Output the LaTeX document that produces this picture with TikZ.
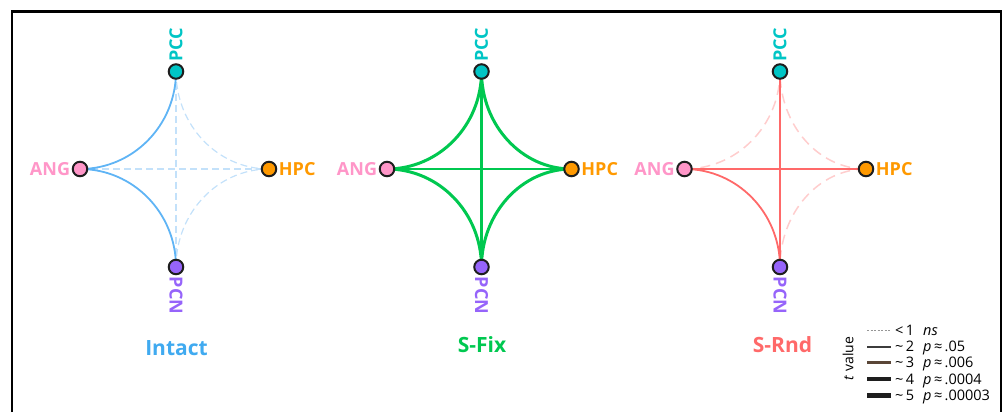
\documentclass[tikz,border=0pt]{standalone}
\usepackage{fontspec}
\setmainfont{Open Sans}
\usetikzlibrary{calc,backgrounds}
\definecolor{cPCC}{RGB}{0,197,197}
\definecolor{cANG}{RGB}{255,150,200}
\definecolor{cHPC}{RGB}{255,153,0}
\definecolor{cPCN}{RGB}{150,100,250}
\definecolor{dotline}{RGB}{30,30,30}
\definecolor{iblue}{RGB}{95,180,245}
\definecolor{iblueT}{RGB}{64,170,240}
\definecolor{iblueL}{RGB}{195,225,250}
\definecolor{fgreen}{RGB}{0,200,80}
\definecolor{rred}{RGB}{255,105,105}
\definecolor{rredL}{RGB}{255,205,205}
\definecolor{lg0}{RGB}{150,150,150}
\definecolor{lg2}{RGB}{60,60,60}
\definecolor{lg3}{RGB}{90,70,55}
\definecolor{lg4}{RGB}{30,30,30}
\newcommand\crv[3][]{\draw[#1] (#2.center) .. controls ($(#2.center)!0.5523!(#2.center -| #3.center)$) and ($(#3.center)!0.5523!(#3.center |- #2.center)$) .. (#3.center);}
\tikzset{
  dot/.style={circle, draw=dotline, line width=2pt, minimum size=14.5pt, inner sep=0pt},
  lab/.style={font=\bfseries\fontsize{18}{18}\selectfont, inner sep=1.5pt},
  ttl/.style={font=\bfseries\fontsize{21}{21}\selectfont, anchor=base},
  leg/.style={font=\fontsize{14.5}{14.5}\selectfont, anchor=base west, inner sep=0pt},
  isolid/.style={draw=iblue, line width=1.8pt},
  idash/.style={draw=iblueL, line width=1.2pt, dash pattern=on 7pt off 4pt},
  fcurve/.style={draw=fgreen, line width=3pt},
  fline/.style={draw=fgreen, line width=2.4pt},
  rsolid/.style={draw=rred, line width=1.8pt},
  rdash/.style={draw=rredL, line width=1.5pt, dash pattern=on 10pt off 6pt},
}
\begin{document}
\begin{tikzpicture}[x=1pt,y=-1pt]
\useasboundingbox (0,0) rectangle (1003,412);
\draw[line width=2.2pt, line join=miter] (12,412) -- (12,11.5) -- (1001,11.5) -- (1001,412);

% ---------- Intact ----------
\node[dot, fill=cPCC] (iPCC) at (176,71.5) {};
\node[dot, fill=cANG] (iANG) at (80,169) {};
\node[dot, fill=cHPC] (iHPC) at (269,169) {};
\node[dot, fill=cPCN] (iPCN) at (176,267) {};
\begin{scope}[on background layer]
  \draw[idash] (iANG.center) -- (iHPC.center);
  \draw[idash] (iPCC.center) -- (iPCN.center);
  \crv[idash]{iHPC}{iPCC}
  \crv[idash]{iHPC}{iPCN}
  \crv[isolid]{iANG}{iPCC}
  \crv[isolid]{iANG}{iPCN}
\end{scope}
\node[lab, text=cPCC, rotate=90, anchor=west] at (iPCC.north) {PCC};
\node[lab, text=cPCN, rotate=-90, anchor=west] at (iPCN.south) {PCN};
\node[lab, text=cANG, anchor=east] at (iANG.west) {ANG};
\node[lab, text=cHPC, anchor=west] at (iHPC.east) {HPC};
\node[ttl, text=iblueT] at (176.5,355) {Intact};

% ---------- S-Fix ----------
\node[dot, fill=cPCC] (fPCC) at (481.5,71.5) {};
\node[dot, fill=cANG] (fANG) at (387,169) {};
\node[dot, fill=cHPC] (fHPC) at (571.5,169) {};
\node[dot, fill=cPCN] (fPCN) at (481.5,267) {};
\begin{scope}[on background layer]
  \draw[fline] (fANG.center) -- (fHPC.center);
  \draw[fline] (fPCC.center) -- (fPCN.center);
  \crv[fcurve]{fANG}{fPCC}
  \crv[fcurve]{fANG}{fPCN}
  \crv[fcurve]{fHPC}{fPCC}
  \crv[fcurve]{fHPC}{fPCN}
\end{scope}
\node[lab, text=cPCC, rotate=90, anchor=west] at (fPCC.north) {PCC};
\node[lab, text=cPCN, rotate=-90, anchor=west] at (fPCN.south) {PCN};
\node[lab, text=cANG, anchor=east] at (fANG.west) {ANG};
\node[lab, text=cHPC, anchor=west] at (fHPC.east) {HPC};
\node[ttl, text=fgreen] at (482,352.5) {S-Fix};

% ---------- S-Rnd ----------
\node[dot, fill=cPCC] (rPCC) at (780,71.5) {};
\node[dot, fill=cANG] (rANG) at (684.5,169) {};
\node[dot, fill=cHPC] (rHPC) at (866,169) {};
\node[dot, fill=cPCN] (rPCN) at (780,267) {};
\begin{scope}[on background layer]
  \crv[rdash]{rANG}{rPCC}
  \crv[rdash]{rHPC}{rPCC}
  \crv[rdash]{rHPC}{rPCN}
  \draw[rsolid] (rANG.center) -- (rHPC.center);
  \draw[rsolid] (rPCC.center) -- (rPCN.center);
  \crv[rsolid]{rANG}{rPCN}
\end{scope}
\node[lab, text=cPCC, rotate=90, anchor=west] at (rPCC.north) {PCC};
\node[lab, text=cPCN, rotate=-90, anchor=west] at (rPCN.south) {PCN};
\node[lab, text=cANG, anchor=east] at (rANG.west) {ANG};
\node[lab, text=cHPC, anchor=west] at (rHPC.east) {HPC};
\node[ttl, text=rred] at (782.5,352) {S-Rnd};

% ---------- Legend ----------
\node[font=\fontsize{14}{14}\selectfont, rotate=90, inner sep=0pt] (tval) at (848,358.5) {\textit{t} value};
\foreach \n/\y in {0/330,2/346.5,3/362.5,4/379,5/395.5}{
  \coordinate (la\n) at (867,\y);
  \coordinate (lb\n) at (891,\y);
}
\draw[lg0, line width=0.7pt, dash pattern=on 2pt off 1.5pt] (la0) -- (lb0);
\draw[lg2, line width=2pt] (la2) -- (lb2);
\draw[lg3, line width=2.6pt] (la3) -- (lb3);
\draw[lg4, line width=3.6pt] (la4) -- (lb4);
\draw[lg4, line width=4.6pt] (la5) -- (lb5);
\node[leg] (t0) at (895,335) {<\,1};
\node[leg] (p0) at (923,335) {\textit{ns}};
\node[leg] (t2) at (895,351.5) {\textasciitilde\,2};
\node[leg] (p2) at (923,351.5) {\textit{p}\,≈\,.05};
\node[leg] (t3) at (895,367.5) {\textasciitilde\,3};
\node[leg] (p3) at (923,367.5) {\textit{p}\,≈\,.006};
\node[leg] (t4) at (895,384) {\textasciitilde\,4};
\node[leg] (p4) at (923,384) {\textit{p}\,≈\,.0004};
\node[leg] (t5) at (895,400.5) {\textasciitilde\,5};
\node[leg] (p5) at (923,400.5) {\textit{p}\,≈\,.00003};
\end{tikzpicture}
\end{document}
